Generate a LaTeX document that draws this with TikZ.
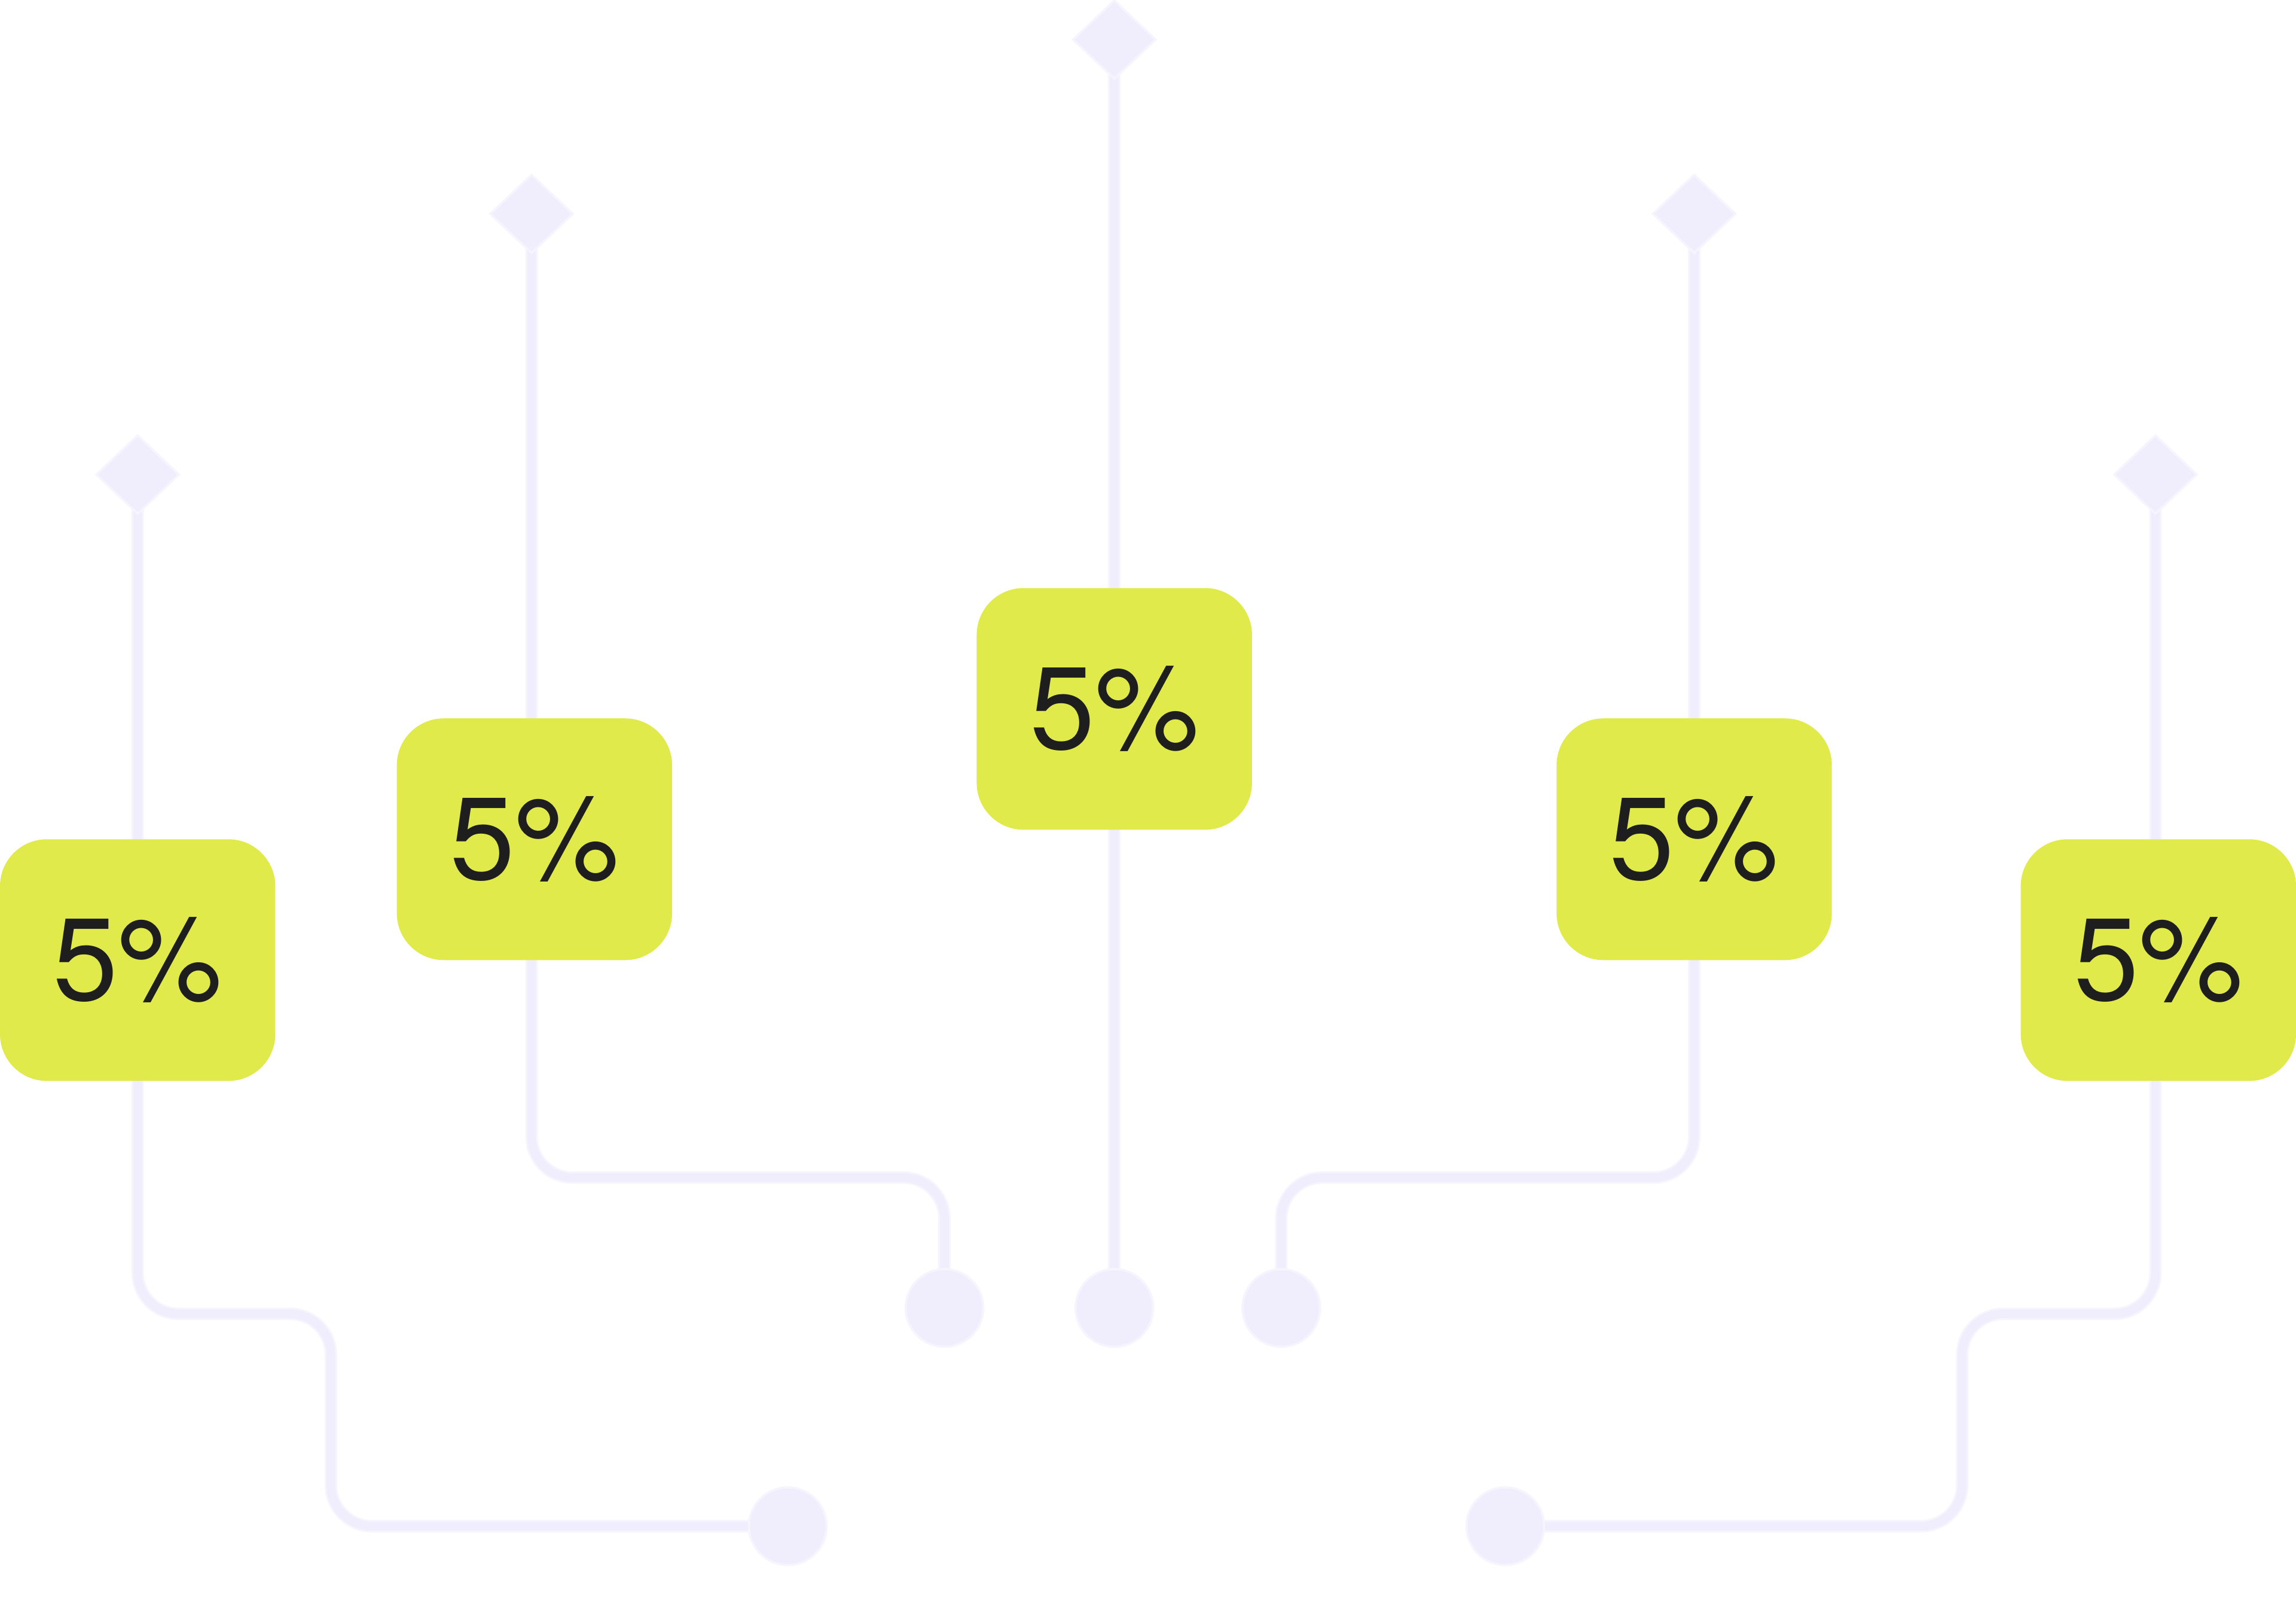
\documentclass[tikz,border=0pt]{standalone}
\usepackage{fontspec}
\setmainfont{TeX Gyre Heros}
\usetikzlibrary{shapes.geometric}
\definecolor{lav}{HTML}{F0EEFD}
\definecolor{lavhalo}{HTML}{F6F5FE}
\definecolor{lime}{HTML}{E0EA4A}
\definecolor{ink}{HTML}{1E1E1E}
\pgfdeclarelayer{bg}
\pgfsetlayers{bg,main}
\begin{document}
\begin{tikzpicture}[x=1pt,y=-1pt,
  badge/.style={rectangle, rounded corners=32pt, fill=lime, minimum width=188pt, minimum height=165pt, inner sep=0pt, text=ink, font=\fontsize{80}{96}\selectfont},
  tip/.style={diamond, fill=lav, draw=lavhalo, line width=1.5pt, minimum width=57pt, minimum height=54pt, inner sep=0pt},
  dot/.style={circle, fill=lav, draw=lavhalo, line width=1.5pt, minimum size=53pt, inner sep=0pt},
  wire/.style={draw=lav, line width=6pt, rounded corners=28pt, preaction={draw=lavhalo, line width=8.5pt}}]
\useasboundingbox (0,0) rectangle (1568,1099);

% tips (diamonds)
\node[tip] (d1) at (94,324) {};
\node[tip] (d2) at (363,146) {};
\node[tip] (d3) at (761,27) {};
\node[tip] (d4) at (1157,146) {};
\node[tip] (d5) at (1472,324) {};

% end dots
\node[dot] (c1) at (538,1042) {};
\node[dot] (c2) at (645,893) {};
\node[dot] (c3) at (761,893) {};
\node[dot] (c4) at (875,893) {};
\node[dot] (c5) at (1028,1042) {};

% badges
\node[badge] (b1) at (94,655.5) {5\%};
\node[badge] (b2) at (365,573) {5\%};
\node[badge] (b3) at (761,484) {5\%};
\node[badge] (b4) at (1157,573) {5\%};
\node[badge] (b5) at (1474,655.5) {5\%};

\begin{pgfonlayer}{bg}
\draw[wire] (d1.center) -- (94,897) -- (226,897) -- (226,1042) -- (c1.center);
\draw[wire] (d2.center) -- (363,804) -- (645,804) -- (c2.center);
\draw[wire] (d3.center) -- (c3.center);
\draw[wire] (d4.center) -- (1157,804) -- (875,804) -- (c4.center);
\draw[wire] (d5.center) -- (1472,897) -- (1340,897) -- (1340,1042) -- (c5.center);
\end{pgfonlayer}
\end{tikzpicture}
\end{document}
